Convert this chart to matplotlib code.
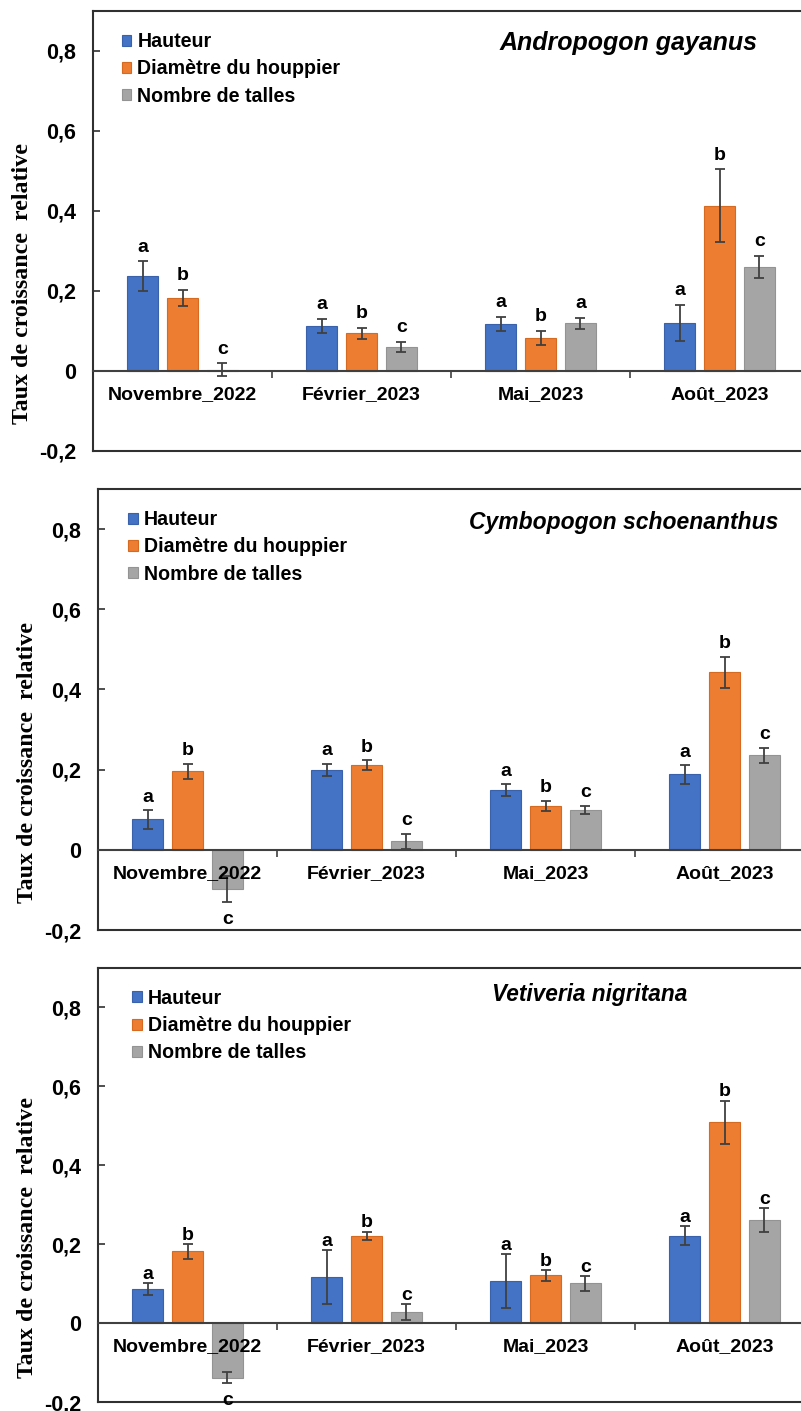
import numpy as np
import matplotlib.pyplot as plt

plt.rcParams['font.family'] = ['Liberation Sans', 'DejaVu Sans']

# categories / series
mois = ['Novembre_2022', 'Février_2023', 'Mai_2023', 'Août_2023']
variables = ['Hauteur', 'Diamètre du houppier', 'Nombre de talles']
especes = ['Andropogon gayanus', 'Cymbopogon schoenanthus', 'Vetiveria nigritana']
y_ticks = [-0.2, 0, 0.2, 0.4, 0.6, 0.8]
y_labels = ['-0,2', '0', '0,2', '0,4', '0,6', '0,8']

# Andropogon gayanus
ag_hauteur = [0.237, 0.113, 0.118, 0.121]
ag_hauteur_err = [0.037, 0.017, 0.018, 0.045]
ag_diametre = [0.183, 0.094, 0.082, 0.413]
ag_diametre_err = [0.020, 0.014, 0.018, 0.091]
ag_talles = [0.003, 0.060, 0.119, 0.260]
ag_talles_err = [0.016, 0.012, 0.013, 0.027]
ag_lettres = [['a', 'a', 'a', 'a'], ['b', 'b', 'b', 'b'], ['c', 'c', 'a', 'c']]

# Cymbopogon schoenanthus
cs_hauteur = [0.076, 0.200, 0.149, 0.188]
cs_hauteur_err = [0.023, 0.015, 0.015, 0.023]
cs_diametre = [0.196, 0.211, 0.110, 0.443]
cs_diametre_err = [0.019, 0.013, 0.013, 0.039]
cs_talles = [-0.098, 0.021, 0.100, 0.236]
cs_talles_err = [0.033, 0.019, 0.010, 0.019]
cs_lettres = [['a', 'a', 'a', 'a'], ['b', 'b', 'b', 'b'], ['c', 'c', 'c', 'c']]

# Vetiveria nigritana
vn_hauteur = [0.086, 0.117, 0.106, 0.221]
vn_hauteur_err = [0.015, 0.068, 0.068, 0.024]
vn_diametre = [0.182, 0.221, 0.121, 0.509]
vn_diametre_err = [0.019, 0.011, 0.014, 0.055]
vn_talles = [-0.138, 0.028, 0.101, 0.262]
vn_talles_err = [0.015, 0.021, 0.019, 0.030]
vn_lettres = [['a', 'a', 'a', 'a'], ['b', 'b', 'b', 'b'], ['c', 'c', 'c', 'c']]

panneaux = [
    ([ag_hauteur, ag_diametre, ag_talles], [ag_hauteur_err, ag_diametre_err, ag_talles_err], ag_lettres),
    ([cs_hauteur, cs_diametre, cs_talles], [cs_hauteur_err, cs_diametre_err, cs_talles_err], cs_lettres),
    ([vn_hauteur, vn_diametre, vn_talles], [vn_hauteur_err, vn_diametre_err, vn_talles_err], vn_lettres),
]

couleurs = ['#4472C4', '#ED7D31', '#A5A5A5']
bords = ['#3A62AC', '#D56A20', '#939393']

# layout (pixels): left, top, bottom of each plot area
W, H = 801, 1411
cadres = [(93, 11, 451), (98, 489, 930), (98, 968, 1402)]
titre_pos = [(0.748, 0.927), (0.734, 0.924), (0.687, 0.938)]
titre_taille = [18, 16.5, 16.3]
legende_x = [0.040, 0.042, 0.048]
lettre_dy = [7, 6, 3]

fig = plt.figure(figsize=(W / 100, H / 100), dpi=100)
x = np.arange(len(mois))
larg = 0.173
pas = 0.223

for p, (vals, errs, lettres) in enumerate(panneaux):
    gauche, haut, bas = cadres[p]
    ax = fig.add_axes([gauche / W, (H - bas) / H, 716 / W, (bas - haut) / H])
    for k in range(3):
        ax.bar(x + (k - 1) * pas, vals[k], larg, color=couleurs[k], edgecolor=bords[k],
               linewidth=0.8, label=variables[k], zorder=2,
               yerr=errs[k], error_kw=dict(ecolor='#404040', elinewidth=1.3,
                                           capsize=3.3, capthick=1.3, zorder=3))
        for j in range(len(mois)):
            v, e = vals[k][j], errs[k][j]
            if v >= 0:
                y, dy = v + e, lettre_dy[p]
            else:
                y, dy = v - e, -15.5
            ax.annotate(lettres[k][j], (x[j] + (k - 1) * pas, y), xytext=(0, dy),
                        textcoords='offset points', ha='center', va='baseline',
                        fontsize=14, fontweight='bold', zorder=4)

    ax.set_xlim(-0.5, 3.5)
    ax.set_ylim(-0.2, 0.9)
    ax.set_xticks([])
    ax.set_yticks(y_ticks)
    ax.set_yticklabels(y_labels, fontweight='bold')
    ax.tick_params(axis='y', direction='in', length=5, width=1.2, pad=12,
                   labelsize=15.5, color='#303030')
    for s in ax.spines.values():
        s.set_color('#303030')
        s.set_linewidth(1.5)

    # category axis crossing at zero
    sec = ax.secondary_xaxis(0.2 / 1.1)
    sec.set_zorder(5)
    sec.set_xticks(x)
    sec.set_xticklabels(mois, fontweight='bold', fontsize=14)
    sec.set_xticks(x[:-1] + 0.5, minor=True)
    sec.tick_params(which='major', length=0, pad=11)
    sec.tick_params(which='minor', length=5, width=1.2, direction='out', color='#404040')
    sec.spines['bottom'].set_color('#404040')
    sec.spines['bottom'].set_linewidth(1.5)

    ax.set_ylabel('Taux de croissance  relative', family='Liberation Serif',
                  fontweight='bold', fontsize=17.2)
    ax.yaxis.set_label_coords(-0.084, 0.38)

    ax.text(titre_pos[p][0], titre_pos[p][1], especes[p], transform=ax.transAxes,
            ha='center', va='center', fontsize=titre_taille[p], fontweight='bold',
            style='italic')

    ax.legend(loc='upper left', bbox_to_anchor=(legende_x[p], 0.952), frameon=False,
              borderaxespad=0, borderpad=0, handlelength=0.5, handleheight=0.5,
              handletextpad=0.3, labelspacing=0.42, prop=dict(weight='bold', size=14.1))

fig.savefig('out.png', dpi=100)
